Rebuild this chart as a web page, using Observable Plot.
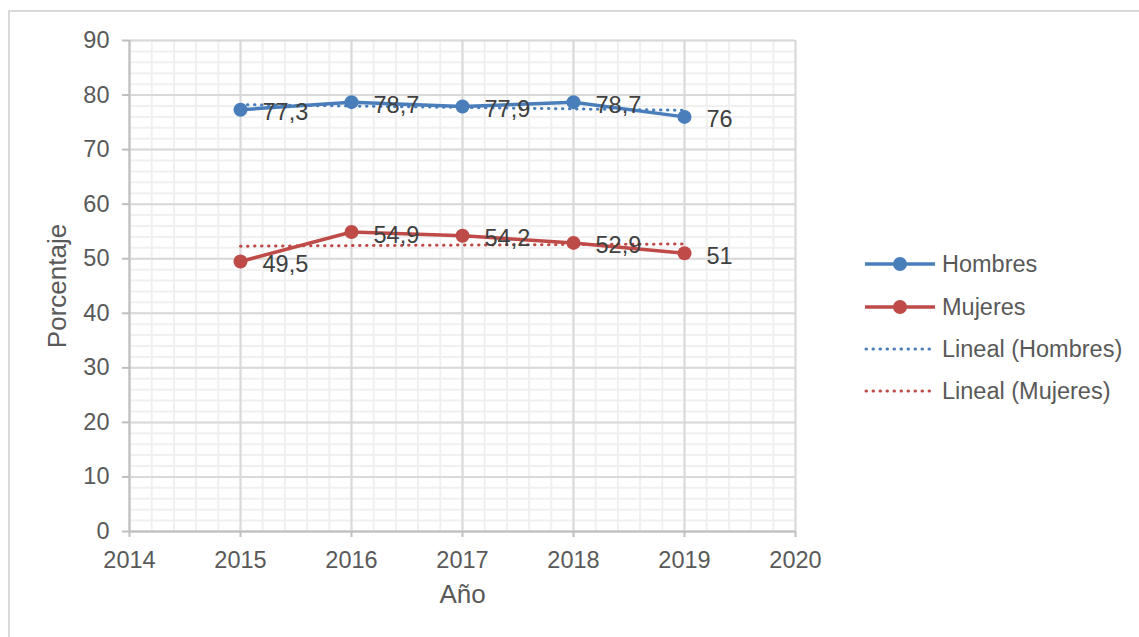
<!DOCTYPE html>
<html>
<head>
<meta charset="utf-8">
<script src="https://cdn.jsdelivr.net/npm/d3@7"></script>
<script src="https://cdn.jsdelivr.net/npm/@observablehq/plot@0.6"></script>
<style>
  html, body { margin: 0; padding: 0; background: #fff; }
  #wrap { position: relative; width: 1139px; height: 637px; overflow: hidden; font-family: "Liberation Sans", Arial, sans-serif; }
  #frame { position: absolute; left: 8px; top: 10px; width: 1200px; height: 700px; border-left: 2px solid #d9d9d9; border-top: 2px solid #d9d9d9; }
  #chart { position: absolute; left: 0; top: 0; }
  #legend { position: absolute; left: 864px; top: 0; }
  .item { position: absolute; left: 0; height: 30px; width: 270px; }
  .item span { position: absolute; left: 78px; top: 0; font-size: 23.5px; color: #595959; white-space: nowrap; line-height: 30px; }
  .item svg { position: absolute; left: 0; top: 0; }
</style>
</head>
<body>
<div id="wrap">
  <div id="frame"></div>
  <div id="chart"></div>
  <div id="legend"></div>
</div>
<script>
// ---- data ----
const years = [2015, 2016, 2017, 2018, 2019];
const hombres = [77.3, 78.7, 77.9, 78.7, 76];
const mujeres = [49.5, 54.9, 54.2, 52.9, 51];
const seriesNames = ["Hombres", "Mujeres"];
const seriesColors = ["#4a7ebb", "#be4b48"];
const trendNames = ["Lineal (Hombres)", "Lineal (Mujeres)"];
const xTicks = [2014, 2015, 2016, 2017, 2018, 2019, 2020];
const yTicks = [0, 10, 20, 30, 40, 50, 60, 70, 80, 90];
const xTitle = "Año";
const yTitle = "Porcentaje";

const rows = [];
years.forEach((yr, i) => {
  rows.push({year: yr, value: hombres[i], serie: seriesNames[0]});
  rows.push({year: yr, value: mujeres[i], serie: seriesNames[1]});
});
const fmt = v => String(v).replace(".", ",");

// minor grid positions (5 subdivisions per major interval)
const xMinor = d3.range(0, (xTicks.length - 1) * 5 + 1).map(i => xTicks[0] + i / 5);
const yMinor = d3.range(0, (yTicks.length - 1) * 5 + 1).map(i => i * 2);

const dotted = {strokeWidth: 3, strokeDasharray: "0.5,6.5", strokeLinecap: "round"};

const chart = Plot.plot({
  width: 1139,
  height: 637,
  marginLeft: 129,
  marginRight: 344,
  marginTop: 40,
  marginBottom: 106,
  style: "font-family: 'Liberation Sans', Arial, sans-serif; font-size: 23px; background: transparent; overflow: visible;",
  x: {domain: [2014, 2020]},
  y: {domain: [0, 90]},
  color: {domain: seriesNames, range: seriesColors},
  marks: [
    Plot.gridX(xMinor, {stroke: "#f0f0f0", strokeOpacity: 1, strokeWidth: 2}),
    Plot.gridY(yMinor, {stroke: "#f0f0f0", strokeOpacity: 1, strokeWidth: 2}),
    Plot.gridX(xTicks, {stroke: "#d9d9d9", strokeOpacity: 1, strokeWidth: 2}),
    Plot.gridY(yTicks, {stroke: "#d9d9d9", strokeOpacity: 1, strokeWidth: 2}),
    Plot.axisX(xTicks, {tickFormat: "d", tickSize: 6, tickPadding: 14, stroke: "#bfbfbf", strokeWidth: 2, fill: "#595959", fontSize: 23.5, label: null}),
    Plot.axisY(yTicks, {tickSize: 7, tickPadding: 13, stroke: "#bfbfbf", strokeWidth: 2, fill: "#595959", fontSize: 23.5, label: null}),
    Plot.ruleX([2014], {stroke: "#bfbfbf", strokeWidth: 2}),
    Plot.ruleY([0], {stroke: "#bfbfbf", strokeWidth: 2}),
    Plot.line(rows, {x: "year", y: "value", z: "serie", stroke: "serie", strokeWidth: 3.5}),
    Plot.dot(rows, {x: "year", y: "value", fill: "serie", r: 7}),
    Plot.linearRegressionY(rows, {x: "year", y: "value", z: "serie", stroke: "serie", ci: 0, ...dotted}),
    Plot.text(rows, {x: "year", y: "value", text: d => fmt(d.value), textAnchor: "start", dx: 22, dy: 3, fill: "#404040", fontSize: 23.5}),
    Plot.text([xTitle], {frameAnchor: "bottom", textAnchor: "middle", dy: 71, fill: "#595959", fontSize: 26}),
    Plot.text([yTitle], {frameAnchor: "left", textAnchor: "middle", dx: -72, rotate: -90, fill: "#595959", fontSize: 26})
  ]
});
document.getElementById("chart").appendChild(chart);

// ---- legend ----
const legend = document.getElementById("legend");
const items = [
  {name: seriesNames[0], color: seriesColors[0], kind: "line", y: 264},
  {name: seriesNames[1], color: seriesColors[1], kind: "line", y: 307},
  {name: trendNames[0], color: seriesColors[0], kind: "dot", y: 349},
  {name: trendNames[1], color: seriesColors[1], kind: "dot", y: 391}
];
items.forEach(it => {
  const div = document.createElement("div");
  div.className = "item";
  div.style.top = (it.y - 15) + "px";
  const sw = it.kind === "line"
    ? `<svg width="74" height="30"><line x1="1" x2="71" y1="15" y2="15" stroke="${it.color}" stroke-width="3.5"/><circle cx="36" cy="15" r="7" fill="${it.color}"/></svg>`
    : `<svg width="74" height="30"><line x1="2" x2="68" y1="15" y2="15" stroke="${it.color}" stroke-width="3" stroke-dasharray="0.5,6.5" stroke-linecap="round"/></svg>`;
  div.innerHTML = sw + `<span>${it.name}</span>`;
  legend.appendChild(div);
});
</script>
</body>
</html>
